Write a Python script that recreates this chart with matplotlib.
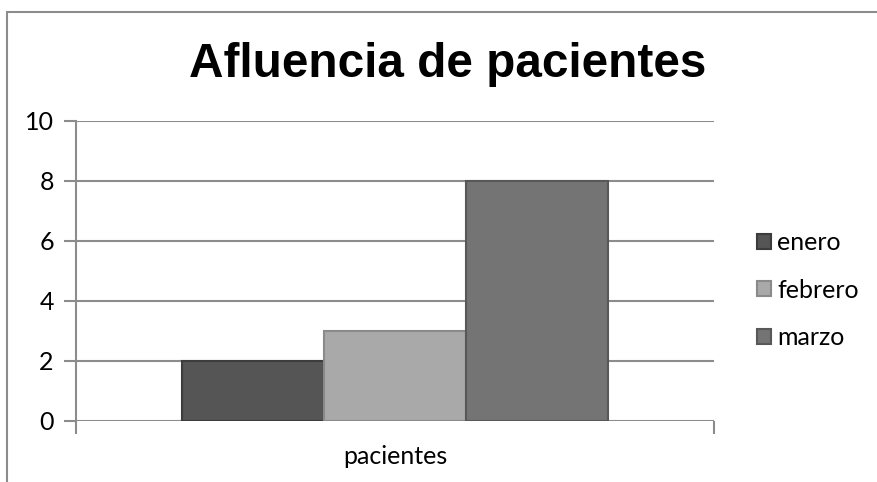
import matplotlib.pyplot as plt
from matplotlib.patches import Rectangle

plt.rcParams['font.family'] = ['Lato', 'DejaVu Sans']

# data
series = ['enero', 'febrero', 'marzo']
values = [2, 3, 8]
category = 'pacientes'
colors = ['#555555', '#a9a9a9', '#747474']
edges = ['#3c3c3c', '#8a8a8a', '#585858']

fig = plt.figure(figsize=(8.78, 4.82), dpi=100)
ax = fig.add_axes([76 / 878, 1 - 421 / 482, 638 / 878, 300 / 482])

# outer border like the spreadsheet chart frame
fig.patches.append(Rectangle((7 / 878, -0.1), 1.2, (482 - 12) / 482 + 0.1,
                             transform=fig.transFigure, fill=False,
                             edgecolor='#8c8c8c', linewidth=1.5))

w = 142 / 638
offsets = [-w, 0, w]
handles = []
for name, v, c, e, off in zip(series, values, colors, edges, offsets):
    b = ax.bar(off, v, width=w, color=c, edgecolor=e, linewidth=1.5,
               label=name, zorder=3)
    handles.append(b)

ax.set_xlim(-0.5, 0.5)
ax.set_ylim(0, 10)
ax.set_yticks([0, 2, 4, 6, 8, 10])
ax.yaxis.grid(True, color='#8c8c8c', linewidth=1.5)
ax.set_axisbelow(True)

for s in ['top', 'right', 'bottom']:
    ax.spines[s].set_visible(False)
ax.spines['left'].set_color('#8c8c8c')
ax.spines['left'].set_linewidth(1.5)
ax.tick_params(axis='y', length=9, width=1.5, color='#8c8c8c',
               labelsize=18, pad=7)

# category axis ticks at the boundaries, label centered
ax.set_xticks([-0.5, 0.5])
ax.set_xticklabels(['', ''])
ax.tick_params(axis='x', length=9, width=1.5, color='#8c8c8c')
ax.text(0.5, -0.08, category, transform=ax.transAxes, ha='center', va='top',
        fontsize=18)

fig.text(448 / 878, 1 - 77 / 482, 'Afluencia de pacientes', ha='center',
         va='baseline', fontsize=34.4, fontweight='bold',
         family=['Liberation Sans', 'DejaVu Sans'])

fig.legend(handles=handles, labels=series, loc='center left',
           bbox_to_anchor=(757 / 878, 1 - 290 / 482), frameon=False,
           fontsize=18, handlelength=0.56, handleheight=0.56,
           handletextpad=0.24, labelspacing=0.98, borderpad=0,
           borderaxespad=0)

fig.savefig('out.png', dpi=100)
